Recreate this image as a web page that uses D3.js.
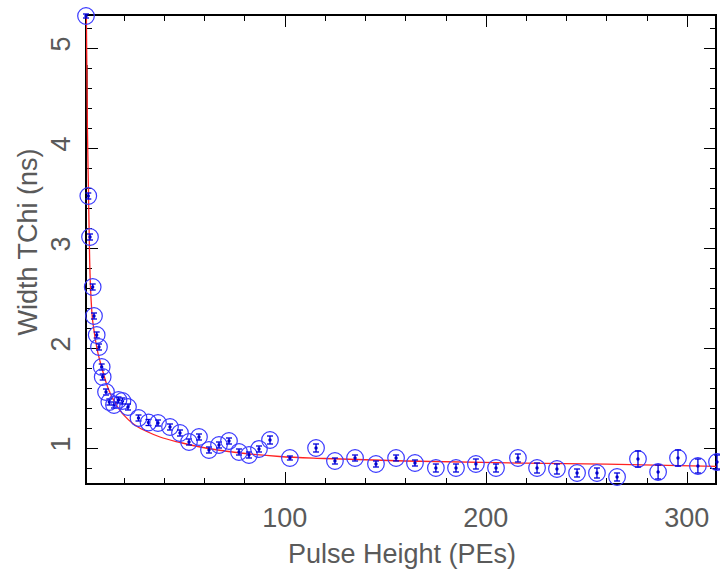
<!DOCTYPE html>
<html>
<head>
<meta charset="utf-8">
<script src="https://cdn.jsdelivr.net/npm/d3@7"></script>
<style>
  body { margin: 0; background: #fff; }
  text { font-family: "Liberation Sans", Arial, sans-serif; fill: #5a5a5a; }
</style>
</head>
<body>
<svg id="chart" width="720" height="578"></svg>
<script>
// Pulse height bins (PEs)
const pulseHeight = [1.2, 2.34, 3.19, 4.53, 5.18, 6.52, 7.66, 9.01, 9.5, 11.15, 12.79, 15.12, 17.36, 19.35, 22.09,
  27.31, 32.28, 37.0, 42.97, 47.94, 52.42, 57.39, 62.36, 67.34, 72.31, 77.28, 82.25, 87.23, 92.7,
  102.6, 115.6, 125.0, 135.0, 145.4, 155.4, 164.8, 175.2, 185.2, 195.1, 205.1, 216.0, 225.5, 235.4,
  245.4, 255.3, 265.3, 275.7, 285.7, 295.6, 305.5, 315.0];
// Width TChi (ns)
const widthTChi = [5.32, 3.52, 3.11, 2.61, 2.32, 2.13, 2.01, 1.81, 1.71, 1.56, 1.46, 1.43, 1.48, 1.47, 1.41,
  1.30, 1.255, 1.25, 1.21, 1.15, 1.06, 1.11, 0.98, 1.03, 1.07, 0.96, 0.93, 0.99, 1.08,
  0.90, 1.00, 0.87, 0.90, 0.84, 0.90, 0.85, 0.80, 0.80, 0.84, 0.80, 0.90, 0.80, 0.79,
  0.75, 0.75, 0.71, 0.89, 0.76, 0.90, 0.82, 0.86];
const widthErr = [0.02, 0.03, 0.03, 0.03, 0.03, 0.03, 0.03, 0.03, 0.03, 0.03, 0.03, 0.03, 0.03, 0.03, 0.03,
  0.03, 0.03, 0.03, 0.03, 0.03, 0.03, 0.03, 0.03, 0.03, 0.03, 0.03, 0.03, 0.03, 0.04,
  0.02, 0.04, 0.03, 0.03, 0.03, 0.03, 0.03, 0.04, 0.04, 0.05, 0.04, 0.04, 0.05, 0.05,
  0.04, 0.05, 0.04, 0.08, 0.07, 0.08, 0.07, 0.07];

// fitted curve
const fitX = [1.25, 1.9, 2.4, 3.0, 4.15, 5.0, 6.6, 9.1, 11.6, 16.6, 24.8, 32, 38, 48, 58, 78, 97.5, 120, 160, 220, 260, 316];
const fitY = [5.6, 4.2, 3.6, 2.9, 2.35, 2.2, 2.0, 1.8, 1.63, 1.42, 1.24, 1.16, 1.11, 1.055, 1.01, 0.95, 0.915, 0.895, 0.87, 0.848, 0.838, 0.815];

// dark segment lying on the left frame
const edgeBar = [4.06, 4.83];

const xMajor = [100, 200, 300];
const xMinor = [20, 40, 60, 80, 120, 140, 160, 180, 220, 240, 260, 280];
const yMajor = [1, 2, 3, 4, 5];
const yMinor = [0.8, 1.2, 1.4, 1.6, 1.8, 2.2, 2.4, 2.6, 2.8, 3.2, 3.4, 3.6, 3.8, 4.2, 4.4, 4.6, 4.8, 5.2];

const W = 720, H = 578;
const margin = {top: 15, right: 4, bottom: 94, left: 86};

const svg = d3.select('#chart');

const x = d3.scaleLinear().domain([1.2, 314.5]).range([margin.left, W - margin.right]);
const y = d3.scaleLinear().domain([0.64, 5.33]).range([H - margin.bottom, margin.top]);

svg.append('defs').append('clipPath').attr('id', 'plot-clip')
  .append('rect')
    .attr('x', margin.left).attr('y', margin.top)
    .attr('width', W - margin.right - margin.left)
    .attr('height', H - margin.bottom - margin.top);

// Frame ticks: all four sides, pointing inwards
function frameAxis(axisFn, transform, values, size) {
  svg.append('g')
    .attr('transform', transform)
    .call(axisFn.tickValues(values).tickSize(size).tickSizeOuter(0).tickFormat(''))
    .call(g => g.select('.domain').remove())
    .call(g => g.selectAll('line').attr('stroke', '#000').attr('shape-rendering', 'crispEdges'));
}
const bottomY = H - margin.bottom, rightX = W - margin.right;
frameAxis(d3.axisBottom(x), `translate(0,${bottomY})`, xMinor, -6);
frameAxis(d3.axisBottom(x), `translate(0,${bottomY})`, xMajor, -12);
frameAxis(d3.axisTop(x), `translate(0,${margin.top})`, xMinor, -6);
frameAxis(d3.axisTop(x), `translate(0,${margin.top})`, xMajor, -12);
frameAxis(d3.axisLeft(y), `translate(${margin.left},0)`, yMinor, -6);
frameAxis(d3.axisLeft(y), `translate(${margin.left},0)`, yMajor, -12);
frameAxis(d3.axisRight(y), `translate(${rightX},0)`, yMinor, -6);
frameAxis(d3.axisRight(y), `translate(${rightX},0)`, yMajor, -12);

svg.append('rect')
  .attr('x', margin.left).attr('y', margin.top)
  .attr('width', rightX - margin.left).attr('height', bottomY - margin.top)
  .attr('fill', 'none').attr('stroke', '#000').attr('stroke-width', 1.2)
  .attr('shape-rendering', 'crispEdges');

svg.append('line')
  .attr('x1', x(1.2) + 0.5).attr('x2', x(1.2) + 0.5)
  .attr('y1', y(edgeBar[0])).attr('y2', y(edgeBar[1]))
  .attr('stroke', '#000').attr('stroke-width', 2.2);

// tick labels
svg.append('g').selectAll('text')
  .data(xMajor).join('text')
    .attr('x', d => x(d)).attr('y', bottomY + 43)
    .attr('text-anchor', 'middle')
    .attr('font-size', 27)
    .text(d => d);

svg.append('g').selectAll('text')
  .data(yMajor).join('text')
    .attr('transform', d => `translate(70,${y(d) - 4}) rotate(-90)`)
    .attr('text-anchor', 'middle')
    .attr('font-size', 27)
    .text(d => d);

// axis titles
svg.append('text')
  .attr('x', 402).attr('y', 563)
  .attr('text-anchor', 'middle')
  .attr('font-size', 27)
  .text('Pulse Height (PEs)');

svg.append('text')
  .attr('transform', 'translate(37,242) rotate(-90)')
  .attr('text-anchor', 'middle')
  .attr('font-size', 27)
  .text('Width TChi (ns)');

// fit curve
const fitLine = d3.line().curve(d3.curveMonotoneX).x(d => x(d[0])).y(d => y(d[1]));
svg.append('path')
  .datum(d3.zip(fitX, fitY))
  .attr('clip-path', 'url(#plot-clip)')
  .attr('d', fitLine)
  .attr('fill', 'none')
  .attr('stroke', '#ff2222')
  .attr('stroke-width', 1.3);

// data points: open circles with error bars
const pts = pulseHeight.map((d, i) => ({x: d, y: widthTChi[i], e: widthErr[i]}));
const pg = svg.append('g').selectAll('g')
  .data(pts).join('g')
    .attr('transform', d => `translate(${x(d.x)},${y(d.y)})`);

pg.append('circle')
  .attr('r', 8.3)
  .attr('fill', 'none')
  .attr('stroke', '#3a3aff')
  .attr('stroke-width', 1.2);

pg.append('line')
  .attr('y1', d => y(d.y + d.e) - y(d.y))
  .attr('y2', d => y(d.y - d.e) - y(d.y))
  .attr('stroke', '#0000dd').attr('stroke-width', 1.3);

pg.selectAll('line.cap')
  .data(d => [d.e, -d.e].map(v => ({dy: y(d.y + v) - y(d.y)})))
  .join('line')
    .attr('class', 'cap')
    .attr('x1', -3).attr('x2', 3)
    .attr('y1', c => c.dy).attr('y2', c => c.dy)
    .attr('stroke', '#0000dd').attr('stroke-width', 1.3);

pg.append('circle')
  .attr('r', 1.7)
  .attr('fill', '#0000cc');
</script>
</body>
</html>
